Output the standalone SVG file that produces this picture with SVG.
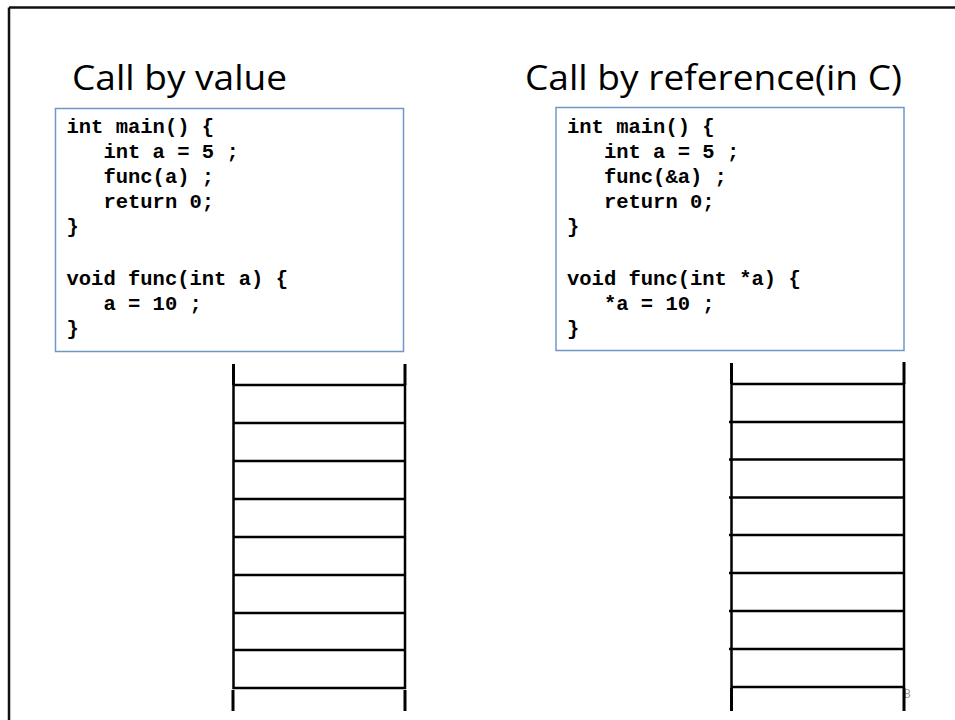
<svg xmlns="http://www.w3.org/2000/svg" width="955" height="720" viewBox="0 0 955 720">
  <style>
    .title { font-family: "Open Sans", "Liberation Sans", sans-serif; font-size: 35px; fill: #000; }
    .code { font-family: "Liberation Mono", "DejaVu Sans Mono", monospace; font-size: 20.5px; font-weight: bold; fill: #000; white-space: pre; }
    .box { fill: #fff; stroke: #7096c8; stroke-width: 1.5; }
    .cell { stroke: #000; stroke-width: 2.5; fill: none; }
    .post { stroke: #000; stroke-width: 3; fill: none; }
    .pagenum { font-family: "Liberation Sans", sans-serif; font-size: 13px; fill: #9a9a9a; }
  </style>

  <rect width="955" height="720" fill="#fff"/>

  <!-- slide frame: top and left edges -->
  <g id="frame" fill="none" stroke="#111" stroke-width="2.5">
    <line x1="9" y1="7.5" x2="955" y2="7.5"/>
    <line x1="9" y1="7.5" x2="9" y2="720"/>
  </g>

  <!-- left column: call by value -->
  <g id="title-value">
    <text class="title" x="72" y="90" textLength="215" lengthAdjust="spacingAndGlyphs">Call by value</text>
  </g>

  <g id="code-value">
    <rect class="box" x="55.5" y="108.5" width="348" height="243"/>
    <text class="code" x="66.5" y="133">int main() {</text>
    <text class="code" x="66.5" y="158">   int a = 5 ;</text>
    <text class="code" x="66.5" y="183">   func(a) ;</text>
    <text class="code" x="66.5" y="208">   return 0;</text>
    <text class="code" x="66.5" y="233">}</text>
    <text class="code" x="66.5" y="285">void func(int a) {</text>
    <text class="code" x="66.5" y="310">   a = 10 ;</text>
    <text class="code" x="66.5" y="335">}</text>
  </g>

  <g id="stack-value">
    <line class="post" x1="233.5" y1="364" x2="233.5" y2="385"/>
    <line class="post" x1="405" y1="364" x2="405" y2="385"/>
    <rect class="cell" x="233.5" y="385" width="171.5" height="303"/>
    <line class="cell" x1="233.5" y1="423" x2="405" y2="423"/>
    <line class="cell" x1="233.5" y1="461" x2="405" y2="461"/>
    <line class="cell" x1="233.5" y1="499" x2="405" y2="499"/>
    <line class="cell" x1="233.5" y1="537" x2="405" y2="537"/>
    <line class="cell" x1="233.5" y1="575" x2="405" y2="575"/>
    <line class="cell" x1="233.5" y1="613" x2="405" y2="613"/>
    <line class="cell" x1="233.5" y1="650" x2="405" y2="650" stroke-width="3"/>
    <line class="post" x1="233" y1="690" x2="233" y2="711"/>
    <line class="post" x1="405" y1="690" x2="405" y2="711"/>
  </g>

  <!-- right column: call by reference -->
  <g id="title-reference">
    <text class="title" x="525" y="90" textLength="377" lengthAdjust="spacingAndGlyphs">Call by reference(in C)</text>
  </g>

  <g id="code-reference">
    <rect class="box" x="556" y="107.5" width="348" height="243"/>
    <text class="code" x="567" y="133">int main() {</text>
    <text class="code" x="567" y="158">   int a = 5 ;</text>
    <text class="code" x="567" y="183">   func(&amp;a) ;</text>
    <text class="code" x="567" y="208">   return 0;</text>
    <text class="code" x="567" y="233">}</text>
    <text class="code" x="567" y="285">void func(int *a) {</text>
    <text class="code" x="567" y="310">   *a = 10 ;</text>
    <text class="code" x="567" y="335">}</text>
  </g>

  <g id="page-number">
    <text class="pagenum" x="903.5" y="698">8</text>
  </g>

  <g id="stack-reference">
    <line class="post" x1="731.5" y1="363" x2="731.5" y2="384"/>
    <line class="post" x1="904" y1="362" x2="904" y2="384"/>
    <rect class="cell" x="731.5" y="384" width="172.5" height="303"/>
    <line class="cell" x1="729" y1="422" x2="904" y2="422"/>
    <line class="cell" x1="729" y1="459.5" x2="904" y2="459.5"/>
    <line class="cell" x1="729" y1="497.5" x2="904" y2="497.5"/>
    <line class="cell" x1="729" y1="535" x2="904" y2="535"/>
    <line class="cell" x1="729" y1="573" x2="904" y2="573" stroke-width="3"/>
    <line class="cell" x1="729" y1="611" x2="904" y2="611" stroke-width="3"/>
    <line class="cell" x1="729" y1="649" x2="904" y2="649"/>
    <line class="post" x1="731.5" y1="688" x2="731.5" y2="711"/>
    <line class="post" x1="904" y1="688" x2="904" y2="711"/>
  </g>
</svg>
